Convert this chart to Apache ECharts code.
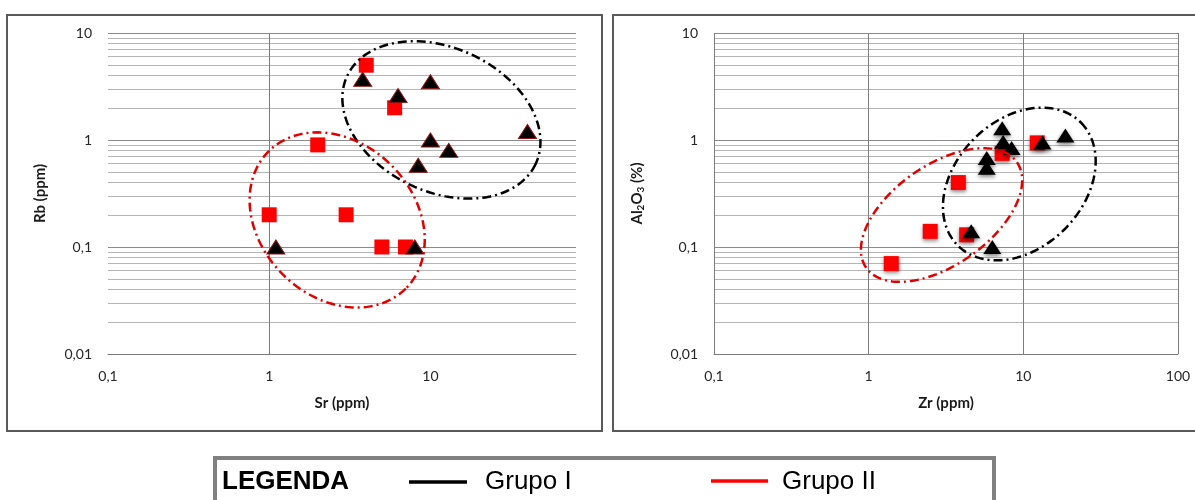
<!DOCTYPE html>
<html>
<head>
<meta charset="utf-8">
<script src="https://cdn.jsdelivr.net/npm/echarts@6/dist/echarts.min.js"></script>
<style>
  html, body { margin: 0; padding: 0; background: #ffffff; }
  #chart { width: 1195px; height: 500px; }
</style>
</head>
<body>
<div id="chart"></div>
<script>
// Sr (ppm) x Rb (ppm)
const srGrupoII = [1, 2, 3, 5, 7, 4, 6];
const rbGrupoII = [0.2, 0.9, 0.2, 0.1, 0.1, 5, 2];
const srGrupoI = [1.1, 8, 3.8, 6.3, 10, 10, 13, 8.4, 40];
const rbGrupoI = [0.1, 0.1, 3.7, 2.6, 3.5, 1.0, 0.8, 0.58, 1.2];

// Zr (ppm) x Al2O3 (%)
const zrGrupoII = [1.4, 2.5, 4.3, 3.8, 7.3, 12.3];
const alGrupoII = [0.07, 0.14, 0.13, 0.4, 0.75, 0.94];
const zrGrupoI = [7.3, 7.4, 8.4, 5.8, 5.8, 13.3, 18.7, 4.6, 6.3];
const alGrupoI = [1.29, 0.96, 0.84, 0.68, 0.55, 0.95, 1.1, 0.14, 0.1];

// axis ranges and gridline values
const yRange = [0.01, 10];
const srRange = [0.1, 80];
const zrRange = [0.1, 100];
const minorY = [0.02, 0.03, 0.04, 0.05, 0.06, 0.07, 0.08, 0.09,
                0.2, 0.3, 0.4, 0.5, 0.6, 0.7, 0.8, 0.9,
                2, 3, 4, 5, 6, 7, 8, 9];
const srVertical = [1];
const zrVertical = [0.1, 1, 10, 100];

const pairs = (xs, ys) => xs.map((x, i) => [x, ys[i]]);

// decade labels only, with decimal comma
const fmt = v => {
  const n = Number(Number(v).toPrecision(6));
  const lg = Math.log10(n);
  if (Math.abs(lg - Math.round(lg)) > 1e-6) return '';
  return String(n).replace('.', ',');
};

const labelFont = { fontFamily: 'Lato', fontSize: 14, color: '#262626' };
const nameFont = { fontFamily: 'Lato', fontSize: 15, fontWeight: 'bold', color: '#1a1a1a' };

function xAxis(gi, range, name) {
  return {
    type: 'log', logBase: 10, gridIndex: gi, min: range[0], max: range[1],
    name: name, nameLocation: 'middle', nameGap: 42, nameTextStyle: nameFont,
    axisLine: { show: true, lineStyle: { color: '#7a7a7a', width: 1 } },
    axisTick: { show: false },
    axisLabel: Object.assign({ margin: 15, formatter: fmt, showMaxLabel: true }, labelFont),
    splitLine: { show: false }
  };
}

function yAxis(gi, name, gap, rich) {
  return {
    type: 'log', logBase: 10, gridIndex: gi, min: yRange[0], max: yRange[1],
    name: name, nameLocation: 'middle', nameGap: gap,
    nameTextStyle: Object.assign({ rich: rich || {} }, nameFont),
    axisLine: { show: false },
    axisTick: { show: false },
    axisLabel: Object.assign({ margin: 16, formatter: fmt }, labelFont),
    splitLine: { show: true, lineStyle: { color: '#8a8a8a', width: 1 } }
  };
}

function gridLines(verticals) {
  const data = minorY.map(v => ({ yAxis: v, lineStyle: { color: '#b5b5b5', width: 1, type: 'solid' } }))
    .concat(verticals.map(v => ({ xAxis: v, lineStyle: { color: '#7d7d7d', width: 1, type: 'solid' } })));
  return {
    silent: true, symbol: 'none', z: 1, animation: false,
    label: { show: false }, emphasis: { disabled: true },
    data: data
  };
}

const chart = echarts.init(document.getElementById('chart'), null, { renderer: 'canvas' });

const subRich = {
  b: { fontFamily: 'Lato', fontSize: 15, fontWeight: 'bold', color: '#1a1a1a' },
  s: { fontFamily: 'Lato', fontSize: 10, fontWeight: 'bold', color: '#1a1a1a', padding: [8, 0, 0, 0] }
};

chart.setOption({
  animation: false,
  backgroundColor: '#ffffff',
  grid: [
    { left: 108, top: 33, width: 468, height: 321 },
    { left: 714, top: 33, width: 464, height: 321 }
  ],
  xAxis: [xAxis(0, srRange, 'Sr (ppm)'), xAxis(1, zrRange, 'Zr (ppm)')],
  yAxis: [
    yAxis(0, 'Rb (ppm)', 60),
    yAxis(1, '{b|Al}{s|2}{b|O}{s|3}{b| (%)}', 68, subRich)
  ],
  series: [
    {
      name: 'Grupo II', type: 'scatter', xAxisIndex: 0, yAxisIndex: 0,
      data: pairs(srGrupoII, rbGrupoII),
      symbol: 'rect', symbolSize: 15,
      itemStyle: { color: '#ff0000', opacity: 1 },
      markLine: gridLines(srVertical)
    },
    {
      name: 'Grupo I', type: 'scatter', xAxisIndex: 0, yAxisIndex: 0,
      data: pairs(srGrupoI, rbGrupoI),
      symbol: 'triangle', symbolSize: [18, 14],
      itemStyle: { color: '#000000', borderColor: '#8b1010', borderWidth: 1, opacity: 1 }
    },
    {
      name: 'Grupo II', type: 'scatter', xAxisIndex: 1, yAxisIndex: 1,
      data: pairs(zrGrupoII, alGrupoII),
      symbol: 'rect', symbolSize: 15,
      itemStyle: { color: '#ff0000', opacity: 1, shadowBlur: 4, shadowOffsetY: 2, shadowColor: 'rgba(0,0,0,0.45)' },
      markLine: gridLines(zrVertical)
    },
    {
      name: 'Grupo I', type: 'scatter', xAxisIndex: 1, yAxisIndex: 1,
      data: pairs(zrGrupoI, alGrupoI),
      symbol: 'triangle', symbolSize: [18, 14],
      itemStyle: { color: '#000000', opacity: 1, shadowBlur: 4, shadowOffsetY: 2, shadowColor: 'rgba(0,0,0,0.5)' }
    }
  ]
});

// Hand-drawn group outlines: centre given in data units, radii in pixels, tilt in degrees
const outlines = [
  { grid: 0, at: [11.7, 1.54], rx: 104, ry: 72, tilt: 25, color: '#000000' },
  { grid: 0, at: [2.64, 0.179], rx: 97, ry: 77, tilt: 45, color: '#e00000' },
  { grid: 1, at: [9.42, 0.388], rx: 87, ry: 64, tilt: -45, color: '#000000' },
  { grid: 1, at: [2.96, 0.199], rx: 92, ry: 50, tilt: -35, color: '#e00000' }
];

function outlineShape(o) {
  const c = chart.convertToPixel({ xAxisIndex: o.grid, yAxisIndex: o.grid }, o.at);
  const th = o.tilt * Math.PI / 180;
  const pts = [];
  const steps = 160;
  for (let i = 0; i < steps; i++) {
    const t = 2 * Math.PI * i / steps;
    const ex = o.rx * Math.cos(t), ey = o.ry * Math.sin(t);
    pts.push([c[0] + ex * Math.cos(th) - ey * Math.sin(th), c[1] + ex * Math.sin(th) + ey * Math.cos(th)]);
  }
  return {
    type: 'polygon', silent: true, z: 10,
    shape: { points: pts },
    style: { fill: null, stroke: o.color, lineWidth: 2.5, lineDash: [9, 4, 2, 4] }
  };
}

const legendFont = 'Liberation Sans, Arial, sans-serif';

chart.setOption({
  graphic: [
    { type: 'rect', silent: true, z: 0, shape: { x: 7, y: 15, width: 595, height: 416 },
      style: { fill: null, stroke: '#5a5a5a', lineWidth: 2 } },
    { type: 'rect', silent: true, z: 0, shape: { x: 613, y: 15, width: 600, height: 416 },
      style: { fill: null, stroke: '#5a5a5a', lineWidth: 2 } },
    { type: 'rect', silent: true, z: 0, shape: { x: 215, y: 458, width: 779, height: 60 },
      style: { fill: null, stroke: '#808080', lineWidth: 4 } },
    { type: 'text', silent: true, x: 222, y: 482,
      style: { text: 'LEGENDA', font: 'bold 26px ' + legendFont, fill: '#000', verticalAlign: 'middle' } },
    { type: 'line', silent: true, shape: { x1: 409, y1: 482, x2: 467, y2: 482 },
      style: { stroke: '#000000', lineWidth: 3.5 } },
    { type: 'text', silent: true, x: 485, y: 482,
      style: { text: 'Grupo I', font: '26px ' + legendFont, fill: '#000', verticalAlign: 'middle' } },
    { type: 'line', silent: true, shape: { x1: 711, y1: 481, x2: 768, y2: 481 },
      style: { stroke: '#ff0000', lineWidth: 3.5 } },
    { type: 'text', silent: true, x: 782, y: 482,
      style: { text: 'Grupo II', font: '26px ' + legendFont, fill: '#000', verticalAlign: 'middle' } }
  ].concat(outlines.map(outlineShape))
});
</script>
</body>
</html>
